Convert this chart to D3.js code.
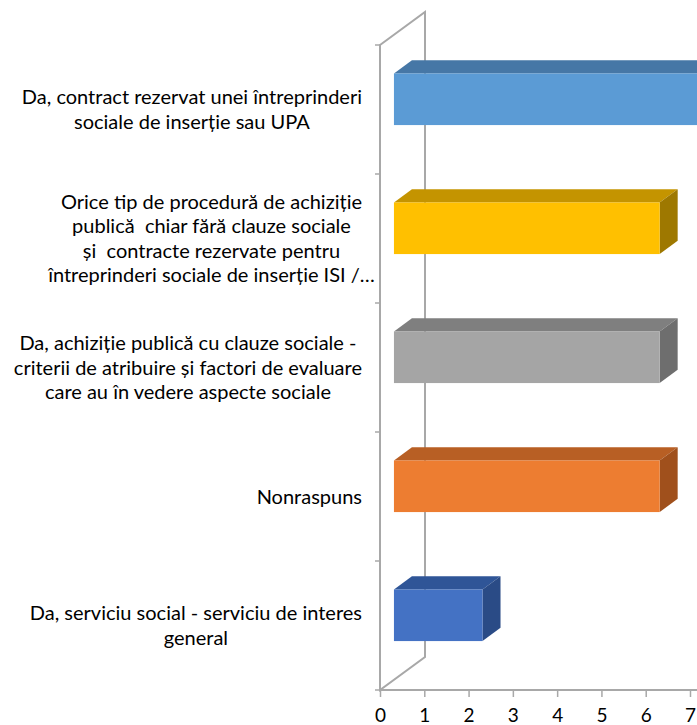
<!DOCTYPE html>
<html><head><meta charset="utf-8">
<script src="https://cdn.jsdelivr.net/npm/d3@7"></script>
<style>body{margin:0;background:#fff}svg{display:block}text{white-space:pre}</style>
</head><body>
<script>
const categories = [
  "Da, contract rezervat unei întreprinderi\nsociale de inserție sau UPA",
  "Orice tip de procedură de achiziție\npublică  chiar fără clauze sociale\nși  contracte rezervate pentru\nîntreprinderi sociale de inserție ISI /…",
  "Da, achiziție publică cu clauze sociale -\ncriterii de atribuire și factori de evaluare\ncare au în vedere aspecte sociale",
  "Nonraspuns",
  "Da, serviciu social - serviciu de interes\ngeneral"
];
const values = [7, 6, 6, 6, 2];
const xTicks = [0, 1, 2, 3, 4, 5, 6, 7];
const frontColors = ["#5B9BD5", "#FFC000", "#A5A5A5", "#ED7D31", "#4472C4"];
const topColors   = ["#4677A6", "#C49400", "#7F7F7F", "#B85F24", "#2F5597"];
const sideColors  = ["#3B6690", "#9E7800", "#6E6E6E", "#A0501C", "#2A4B86"];

const W = 697, H = 725;
const FONT = "Lato, 'Open Sans', sans-serif";
const svg = d3.select("body").append("svg").attr("width", W).attr("height", H);

const x = d3.scaleLinear().domain([0, 7]).range([380, 690]);
const y = d3.scaleBand().domain(categories).range([45, 690]).paddingInner(0.6).paddingOuter(0.3);
const yFull = d3.scaleBand().domain(categories).range([45, 690]);
const DX = 45, DY = -33;          // wall depth
const f0 = 0.31, f1 = 0.71;       // bar depth span (fraction)

const wallCol = "#A8A8A8";
// left wall
svg.append("path")
  .attr("d", `M${x(0)},${yFull.range()[0]} L${x(0)+DX},${yFull.range()[0]+DY} L${x(0)+DX},${yFull.range()[1]+DY} L${x(0)},${yFull.range()[1]} Z`)
  .attr("fill", "none").attr("stroke", wallCol).attr("stroke-width", 2);
// bottom axis line
svg.append("line").attr("x1", x(0)).attr("x2", W).attr("y1", 690).attr("y2", 690)
  .attr("stroke", wallCol).attr("stroke-width", 2);
// left ticks
const bounds = categories.map(c => yFull(c)).concat([690]);
svg.selectAll(".ltick").data(bounds).join("line")
  .attr("x1", x(0) - 5).attr("x2", x(0)).attr("y1", d => d).attr("y2", d => d)
  .attr("stroke", wallCol).attr("stroke-width", 1.5);

// x axis
const ax = svg.append("g").attr("transform", "translate(0,690)")
  .call(d3.axisBottom(x).tickValues(xTicks).tickSize(7).tickPadding(12).tickFormat(d3.format("d")));
ax.select(".domain").remove();
ax.selectAll(".tick line").attr("stroke", wallCol).attr("stroke-width", 1.5);
ax.selectAll(".tick text").attr("font-family", FONT).attr("font-size", 19).attr("fill", "#000");

// bars
const bars = svg.append("g");
categories.forEach((c, i) => {
  const x0 = x(0) + DX * f0, y0 = y(c) + DY * f0;
  const x1 = x(values[i]) + DX * f0, y1 = y0 + y.bandwidth();
  const ddx = DX * (f1 - f0), ddy = DY * (f1 - f0);
  const g = bars.append("g");
  g.append("path").attr("d", `M${x0},${y0} L${x0+ddx},${y0+ddy} L${x1+ddx},${y0+ddy} L${x1},${y0} Z`).attr("fill", topColors[i]);
  g.append("path").attr("d", `M${x1},${y0} L${x1+ddx},${y0+ddy} L${x1+ddx},${y1+ddy} L${x1},${y1} Z`).attr("fill", sideColors[i]);
  g.append("rect").attr("x", x0).attr("y", y0).attr("width", x1 - x0).attr("height", y1 - y0).attr("fill", frontColors[i]);
});

// category labels (block right-aligned, lines centred; trailing ellipsis not counted in block width)
const LH = 24.5, RIGHT = 362;
categories.forEach((c, i) => {
  const lines = c.split("\n");
  const cy = yFull(c) + yFull.bandwidth() / 2;
  const g = svg.append("g");
  const texts = lines.map((l, j) => g.append("text")
    .attr("font-family", FONT).attr("font-size", 20).attr("fill", "#000")
    .attr("text-anchor", "middle")
    .attr("y", cy + (j - (lines.length - 1) / 2) * LH)
    .attr("dy", "0.35em").text(l));
  const widths = texts.map((t, j) => {
    const full = t.node().getComputedTextLength();
    if (lines[j].endsWith("…")) {
      const n = lines[j].length;
      return t.node().getSubStringLength(0, n - 3);
    }
    return full;
  });
  const maxW = d3.max(widths);
  texts.forEach(t => t.attr("x", RIGHT - maxW / 2));
});
</script>
</body></html>
